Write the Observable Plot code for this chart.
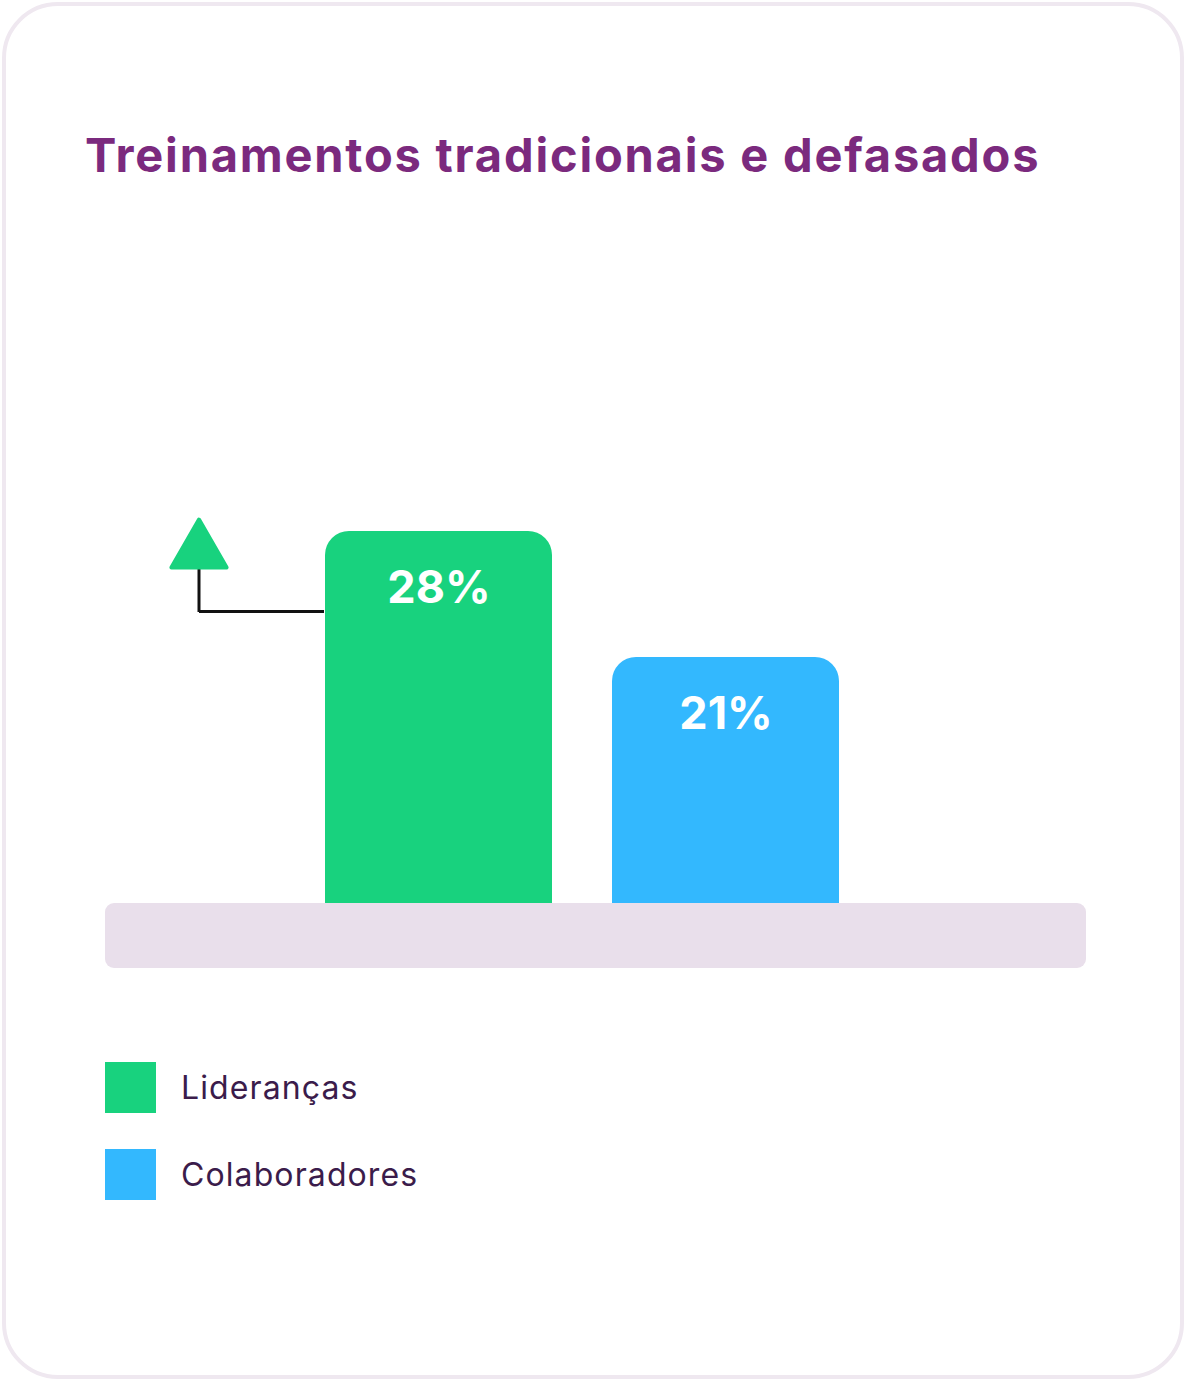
<!DOCTYPE html>
<html>
<head>
<meta charset="utf-8">
<script src="https://cdn.jsdelivr.net/npm/d3@7"></script>
<script src="https://cdn.jsdelivr.net/npm/@observablehq/plot@0.6"></script>
<style>
  html, body { margin: 0; padding: 0; background: #ffffff; }
  #page { position: relative; width: 1188px; height: 1383px; overflow: hidden; font-family: Inter, "Noto Sans", sans-serif; }
  #card { position: absolute; left: 2px; top: 2px; width: 1182px; height: 1377px; box-sizing: border-box;
          border: 4px solid #efe8f0; border-radius: 56px; background: #ffffff; }
  #title { position: absolute; left: 85px; top: 126px; margin: 0; font-size: 47px; font-weight: 700;
           color: #7b2a7e; white-space: nowrap; letter-spacing: 1.8px; }
  #chart { position: absolute; left: 0; top: 480px; }
  .legend-item { position: absolute; left: 105px; display: flex; align-items: center; }
  .swatch { width: 51px; height: 51px; }
  .legend-label { margin-left: 25px; font-size: 32px; color: #3b1c4b; font-weight: 400; white-space: nowrap; letter-spacing: 1.1px; }
</style>
</head>
<body>
<div id="page">
  <div id="card"></div>
  <h1 id="title">Treinamentos tradicionais e defasados</h1>
  <div id="chart"></div>
  <div id="legend"></div>
</div>
<script>
// ---- data ----
const categories = ["Lideranças", "Colaboradores"];
const values = [28, 21];
const colors = ["#18d27e", "#33b8fe"];
const valueLabels = ["28%", "21%"];
const leader = "Lideranças";        // the group marked by the up-arrow
const baseValue = 7.33;             // value at the top of the base strip
const stripBottom = 3.72;           // value at the bottom of the base strip
const yTop = 28;

const rows = categories.map((c, i) => ({category: c, value: values[i], label: valueLabels[i], color: colors[i]}));
const leadRow = rows.filter(d => d.category === leader);

const chart = Plot.plot({
  width: 1188,
  height: 510,
  marginTop: 51,
  marginBottom: 22,
  marginLeft: 105,
  marginRight: 102,
  x: {domain: categories, paddingInner: 0.2083, paddingOuter: 0.8073, align: 0.471, axis: null},
  y: {domain: [stripBottom, yTop], axis: null},
  style: {background: "transparent", overflow: "visible"},
  marks: [
    Plot.barY(rows, {x: "category", y1: stripBottom, y2: "value", fill: "color", rx: 24}),
    Plot.rect([{lo: stripBottom, hi: baseValue}], {y1: "lo", y2: "hi", fill: "#e9dfeb", rx: 9}),
    Plot.text(rows, {x: "category", y: "value", text: "label", dy: 57, fill: "#ffffff",
      fontSize: 45, fontWeight: 700, fontFamily: "Inter, sans-serif"}),
    // elbow connector from the leading bar to the up-arrow
    Plot.tickY(leadRow, {x: "category", y: "value", dy: 80, insetLeft: -126, insetRight: 228,
      stroke: "#111111", strokeWidth: 3}),
    Plot.ruleX(leadRow, {x: "category", y1: "value", y2: "value", dx: -240, insetTop: 37, insetBottom: -81,
      stroke: "#111111", strokeWidth: 3}),
    Plot.dot(leadRow, {x: "category", y: "value", dx: -240, dy: 20, symbol: "triangle", r: 20.5,
      fill: "#18d27e", stroke: "#18d27e", strokeWidth: 4, strokeLinejoin: "round"})
  ]
});
document.getElementById("chart").appendChild(chart);

// ---- legend ----
const legend = document.getElementById("legend");
const legendTops = [1062, 1149];
rows.forEach((d, i) => {
  const item = document.createElement("div");
  item.className = "legend-item";
  item.style.top = legendTops[i] + "px";
  item.innerHTML = `<div class="swatch" style="background:${d.color}"></div><span class="legend-label">${d.category}</span>`;
  legend.appendChild(item);
});
</script>
</body>
</html>
